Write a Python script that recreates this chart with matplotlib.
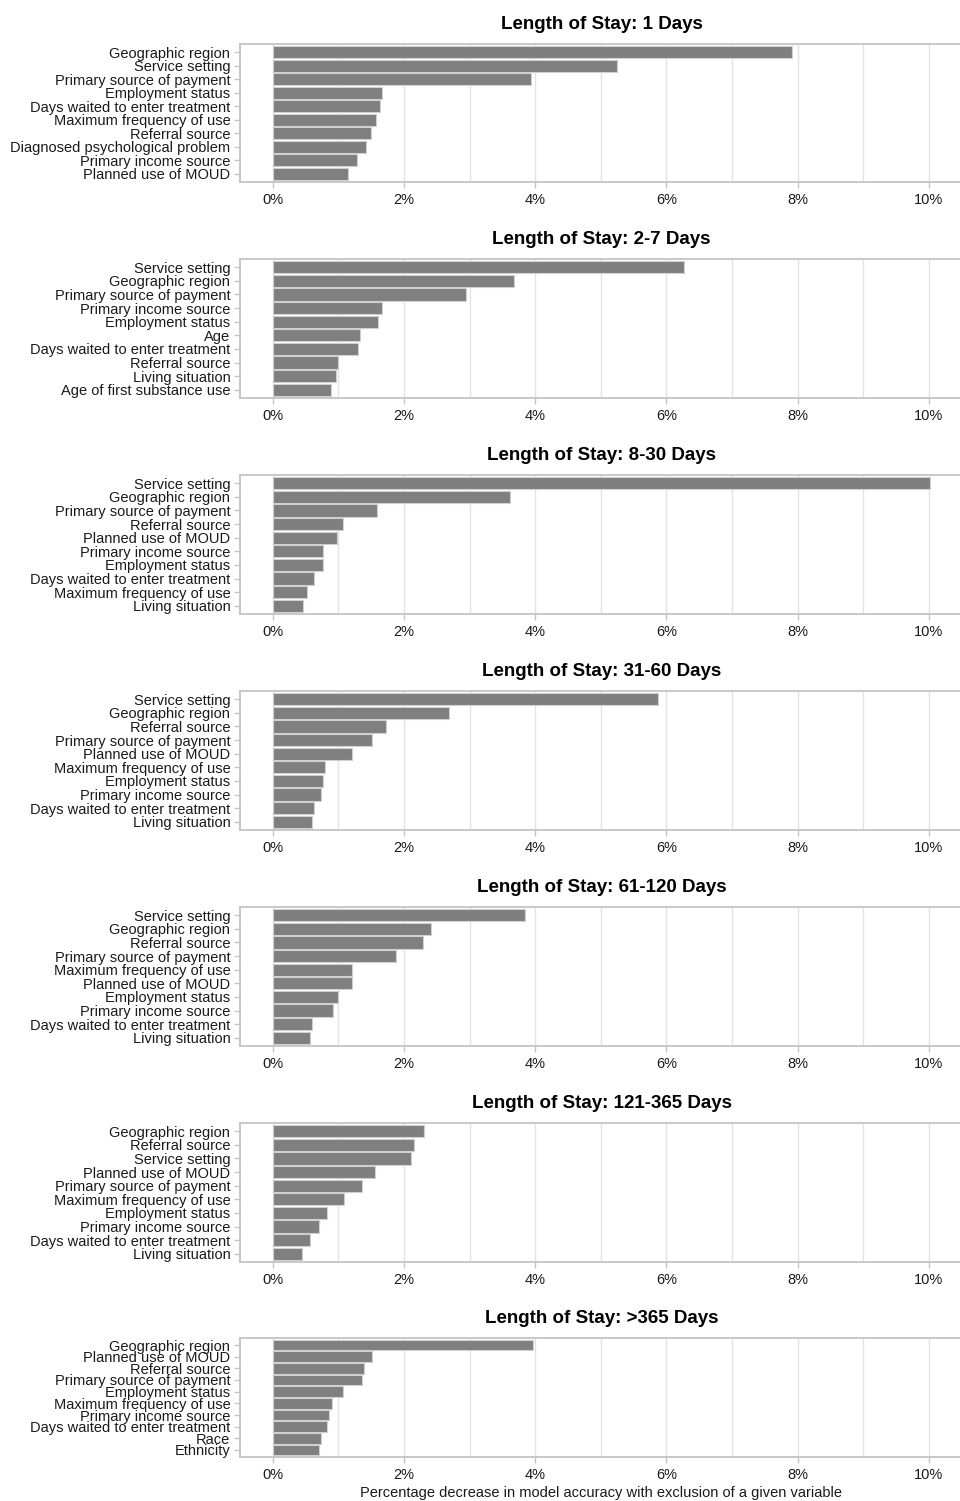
import matplotlib
matplotlib.use("Agg")
import matplotlib.pyplot as plt
from matplotlib.ticker import MultipleLocator, FuncFormatter

plt.rcParams['font.family'] = ['Liberation Sans', 'DejaVu Sans']

# Variable importance by length-of-stay category (percentage decrease in accuracy)
titles = [
    "Length of Stay: 1 Days",
    "Length of Stay: 2-7 Days",
    "Length of Stay: 8-30 Days",
    "Length of Stay: 31-60 Days",
    "Length of Stay: 61-120 Days",
    "Length of Stay: 121-365 Days",
    "Length of Stay: >365 Days",
]

vars_1 = ["Geographic region", "Service setting", "Primary source of payment",
          "Employment status", "Days waited to enter treatment",
          "Maximum frequency of use", "Referral source",
          "Diagnosed psychological problem", "Primary income source",
          "Planned use of MOUD"]
vals_1 = [7.91, 5.24, 3.93, 1.67, 1.64, 1.57, 1.50, 1.42, 1.29, 1.14]

vars_2 = ["Service setting", "Geographic region", "Primary source of payment",
          "Primary income source", "Employment status", "Age",
          "Days waited to enter treatment", "Referral source",
          "Living situation", "Age of first substance use"]
vals_2 = [6.26, 3.68, 2.94, 1.67, 1.60, 1.33, 1.30, 0.99, 0.96, 0.89]

vars_3 = ["Service setting", "Geographic region", "Primary source of payment",
          "Referral source", "Planned use of MOUD", "Primary income source",
          "Employment status", "Days waited to enter treatment",
          "Maximum frequency of use", "Living situation"]
vals_3 = [10.01, 3.62, 1.58, 1.07, 0.97, 0.77, 0.76, 0.62, 0.52, 0.46]

vars_4 = ["Service setting", "Geographic region", "Referral source",
          "Primary source of payment", "Planned use of MOUD",
          "Maximum frequency of use", "Employment status",
          "Primary income source", "Days waited to enter treatment",
          "Living situation"]
vals_4 = [5.87, 2.68, 1.73, 1.51, 1.20, 0.79, 0.77, 0.73, 0.62, 0.60]

vars_5 = ["Service setting", "Geographic region", "Referral source",
          "Primary source of payment", "Maximum frequency of use",
          "Planned use of MOUD", "Employment status", "Primary income source",
          "Days waited to enter treatment", "Living situation"]
vals_5 = [3.84, 2.41, 2.29, 1.88, 1.21, 1.21, 1.00, 0.92, 0.60, 0.57]

vars_6 = ["Geographic region", "Referral source", "Service setting",
          "Planned use of MOUD", "Primary source of payment",
          "Maximum frequency of use", "Employment status",
          "Primary income source", "Days waited to enter treatment",
          "Living situation"]
vals_6 = [2.31, 2.15, 2.10, 1.56, 1.36, 1.09, 0.83, 0.70, 0.56, 0.45]

vars_7 = ["Geographic region", "Planned use of MOUD", "Referral source",
          "Primary source of payment", "Employment status",
          "Maximum frequency of use", "Primary income source",
          "Days waited to enter treatment", "Race", "Ethnicity"]
vals_7 = [3.97, 1.51, 1.39, 1.36, 1.07, 0.90, 0.85, 0.83, 0.74, 0.70]

x_ticks = [0, 2, 4, 6, 8, 10]
x_label = "Percentage decrease in model accuracy with exclusion of a given variable"

panels = [(vars_1, vals_1), (vars_2, vals_2), (vars_3, vals_3), (vars_4, vals_4),
          (vars_5, vals_5), (vars_6, vals_6), (vars_7, vals_7)]

W, H = 960, 1501
fig = plt.figure(figsize=(W / 100, H / 100), dpi=100)

# panel boxes in pixel coordinates: (top, bottom)
boxes = [(44, 182), (259, 398), (475, 614), (691, 830),
         (907, 1046), (1123, 1262), (1338, 1457)]
left_px, right_px = 240, 963

frame_col = "#c4c4c4"
grid_col = "#e3e3e3"
bar_col = "#7f7f7f"
text_col = "#1a1a1a"

for i, ((names, vals), (top, bot), title) in enumerate(zip(panels, boxes, titles)):
    ax = fig.add_axes([left_px / W, 1 - bot / H,
                       (right_px - left_px) / W, (bot - top) / H])
    n = len(names)
    ypos = list(range(n, 0, -1))
    ax.barh(ypos, vals, height=0.9, color=bar_col, edgecolor="#d0d0d0",
            linewidth=0.8, zorder=3)
    ax.set_yticks(ypos)
    ax.set_yticklabels(names, fontsize=10.5, color=text_col)
    ax.set_ylim(0.4, n + 0.6)
    ax.set_xlim(-0.501, 10.52)
    ax.xaxis.set_minor_locator(MultipleLocator(1))
    ax.set_xticks(x_ticks)
    ax.xaxis.set_major_formatter(FuncFormatter(lambda v, p: f"{v:.0f}%"))
    ax.tick_params(axis="x", which="major", labelsize=10.5, labelcolor=text_col,
                   color=frame_col, length=4, width=1, pad=4)
    ax.tick_params(axis="x", which="minor", length=0)
    ax.tick_params(axis="y", color=frame_col, length=4, width=1, pad=3)
    ax.grid(True, axis="x", which="both", color=grid_col, linewidth=1, zorder=0)
    ax.set_axisbelow(True)
    for sp in ax.spines.values():
        sp.set_color(frame_col)
        sp.set_linewidth(1.3)
    ax.set_title(title, fontsize=13.5, fontweight="bold", color="black", pad=11)
    if i == len(panels) - 1:
        ax.set_xlabel(x_label, fontsize=10.5, color=text_col, labelpad=3)

fig.savefig("out.png", dpi=100)
